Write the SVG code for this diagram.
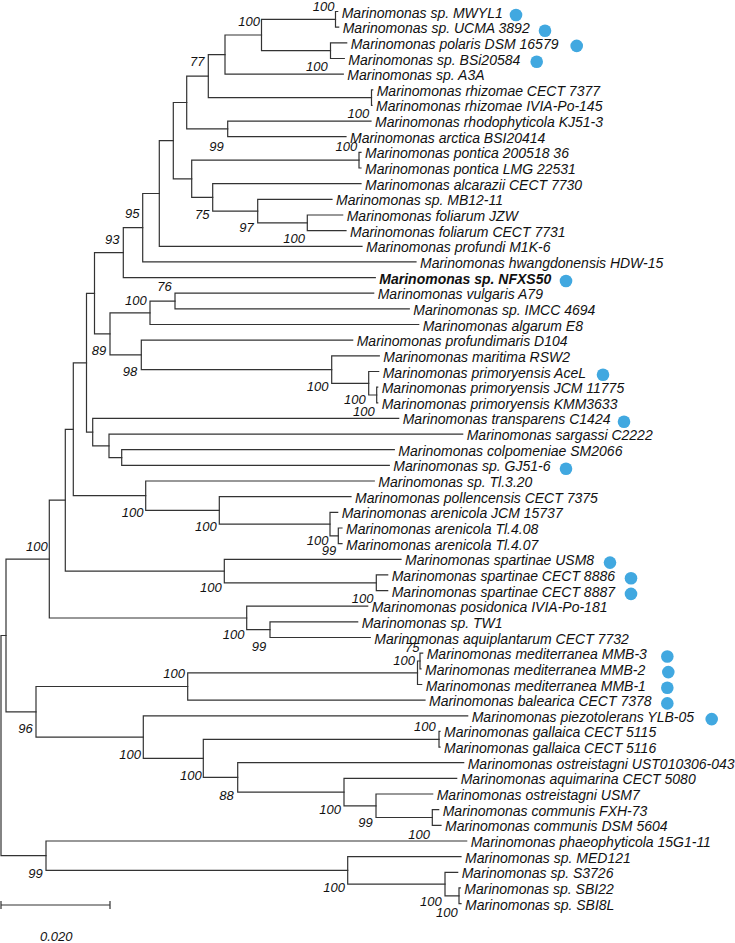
<svg xmlns="http://www.w3.org/2000/svg" width="735" height="943" viewBox="0 0 735 943">
<style>
.br{fill:none;stroke:#333;stroke-width:1.2;stroke-linecap:square}
.lf{font-family:"Liberation Sans",Arial,sans-serif;font-size:14px;font-style:italic;fill:#111}
.bd{font-weight:bold}
.bs{font-family:"Liberation Sans",Arial,sans-serif;font-size:13px;font-style:italic;fill:#111}
.dot{fill:#41A8E0}
</style>
<rect width="735" height="943" fill="#fff"/>
<g id="connectors" class="br">
<path d="M335.5 11.5V27.2M335.5 11.5H337.7M335.5 27.2H338.7"/>
<path d="M330.5 42.8V58.5M330.5 42.8H346.7M330.5 58.5H344.3"/>
<path d="M261.5 19.3V50.6M261.5 19.3H335.5M261.5 50.6H330.5"/>
<path d="M225 35V74.1M225 35H261.5M225 74.1H343.3"/>
<path d="M371.5 89.8V105.4M371.5 89.8H372.7M371.5 105.4H372"/>
<path d="M208.3 54.6V97.6M208.3 54.6H225M208.3 97.6H371.5"/>
<path d="M227.7 121.1V136.7M227.7 121.1H371M227.7 136.7H346"/>
<path d="M186.7 76.1V128.9M186.7 76.1H208.3M186.7 128.9H227.7"/>
<path d="M359 152.4V168M359 152.4H361M359 168H361"/>
<path d="M307.3 215V230.6M307.3 215H342.7M307.3 230.6H346"/>
<path d="M257.7 199.3V222.8M257.7 199.3H332M257.7 222.8H307.3"/>
<path d="M212.7 183.7V211.1M212.7 183.7H361M212.7 211.1H257.7"/>
<path d="M191.7 160.2V197.4M191.7 160.2H359M191.7 197.4H212.7"/>
<path d="M173.3 102.5V178.8M173.3 102.5H186.7M173.3 178.8H191.7"/>
<path d="M159.3 140.7V246.3M159.3 140.7H173.3M159.3 246.3H362"/>
<path d="M142.7 193.5V261.9M142.7 193.5H159.3M142.7 261.9H416"/>
<path d="M123.3 227.7V277.6M123.3 227.7H142.7M123.3 277.6H375.3"/>
<path d="M175 293.2V308.9M175 293.2H373.7M175 308.9H409.3"/>
<path d="M150 301.1V324.5M150 301.1H175M150 324.5H418.7"/>
<path d="M376.7 387.1V402.8M376.7 387.1H377.7M376.7 402.8H377.7"/>
<path d="M368.7 371.5V395M368.7 371.5H378.7M368.7 395H376.7"/>
<path d="M331.7 355.8V383.3M331.7 355.8H379.3M331.7 383.3H368.7"/>
<path d="M141.3 340.2V369.6M141.3 340.2H352.7M141.3 369.6H331.7"/>
<path d="M110 312.8V354.9M110 312.8H150M110 354.9H141.3"/>
<path d="M94.5 252.7V333.9M94.5 252.7H123.3M94.5 333.9H110"/>
<path d="M121.7 449.7V465.4M121.7 449.7H394.3M121.7 465.4H389.3"/>
<path d="M109 434.1V457.6M109 434.1H462.7M109 457.6H121.7"/>
<path d="M92.7 418.4V445.9M92.7 418.4H398.7M92.7 445.9H109"/>
<path d="M86.5 293.3V432.2M86.5 293.3H94.5M86.5 432.2H92.7"/>
<path d="M338.3 528V543.6M338.3 528H342M338.3 543.6H342"/>
<path d="M330 512.3V535.8M330 512.3H337.7M330 535.8H338.3"/>
<path d="M219.3 496.7V524.1M219.3 496.7H351M219.3 524.1H330"/>
<path d="M145.7 481V510.4M145.7 481H374.3M145.7 510.4H219.3"/>
<path d="M73.3 362.8V495.7M73.3 362.8H86.5M73.3 495.7H145.7"/>
<path d="M376.3 574.9V590.6M376.3 574.9H387.7M376.3 590.6H387.7"/>
<path d="M224.3 559.3V582.8M224.3 559.3H401M224.3 582.8H376.3"/>
<path d="M65.3 429.3V571.1M65.3 429.3H73.3M65.3 571.1H224.3"/>
<path d="M270 621.9V637.5M270 621.9H357.7M270 637.5H370.3"/>
<path d="M246.7 606.2V629.7M246.7 606.2H367.7M246.7 629.7H270"/>
<path d="M49.3 500.2V618M49.3 500.2H65.3M49.3 618H246.7"/>
<path d="M420 653.2V668.8M420 653.2H422.7M420 668.8H421"/>
<path d="M417.5 661V684.5M417.5 661H420M417.5 684.5H421.7"/>
<path d="M187.7 672.8V700.1M187.7 672.8H417.5M187.7 700.1H425"/>
<path d="M439 731.4V747.1M439 731.4H440M439 747.1H440"/>
<path d="M432.3 809.7V825.3M432.3 809.7H438.7M432.3 825.3H441"/>
<path d="M376 794V817.5M376 794H432.7M376 817.5H432.3"/>
<path d="M344 778.4V805.8M344 778.4H456.7M344 805.8H376"/>
<path d="M237.7 762.7V792.1M237.7 762.7H463.7M237.7 792.1H344"/>
<path d="M203.3 739.3V777.4M203.3 739.3H439M203.3 777.4H237.7"/>
<path d="M143.3 715.8V758.4M143.3 715.8H467.7M143.3 758.4H203.3"/>
<path d="M36 686.5V737.1M36 686.5H187.7M36 737.1H143.3"/>
<path d="M6 559.1V711.8M6 559.1H49.3M6 711.8H36"/>
<path d="M459 887.9V903.6M459 887.9H460.3M459 903.6H461"/>
<path d="M445 872.3V895.8M445 872.3H457.7M445 895.8H459"/>
<path d="M347.7 856.6V884.1M347.7 856.6H461M347.7 884.1H445"/>
<path d="M46 841V870.4M46 841H466.7M46 870.4H347.7"/>
<path d="M1 635.5V855.7M1 635.5H6M1 855.7H46"/>
</g>
<g id="leaves" class="lf">
<g id="n1"><text x="341.7" y="17.5">Marinomonas sp. MWYL1</text><circle class="dot" cx="516" cy="15" r="6.3"/></g>
<g id="n2"><text x="342.7" y="33.2">Marinomonas sp. UCMA 3892</text><circle class="dot" cx="545" cy="30.7" r="6.3"/></g>
<g id="n3"><text x="350.7" y="48.8">Marinomonas polaris DSM 16579</text><circle class="dot" cx="576.7" cy="45.9" r="6.3"/></g>
<g id="n4"><text x="348.3" y="64.5">Marinomonas sp. BSi20584</text><circle class="dot" cx="536.7" cy="61.8" r="6.3"/></g>
<g id="n5"><text x="347.3" y="80.1">Marinomonas sp. A3A</text></g>
<g id="n6"><text x="376.7" y="95.8">Marinomonas rhizomae CECT 7377</text></g>
<g id="n7"><text x="376" y="111.4">Marinomonas rhizomae IVIA-Po-145</text></g>
<g id="n8"><text x="375" y="127.1">Marinomonas rhodophyticola KJ51-3</text></g>
<g id="n9"><text x="350" y="142.7">Marinomonas arctica BSI20414</text></g>
<g id="n10"><text x="365" y="158.4">Marinomonas pontica 200518 36</text></g>
<g id="n11"><text x="365" y="174">Marinomonas pontica LMG 22531</text></g>
<g id="n12"><text x="365" y="189.7">Marinomonas alcarazii CECT 7730</text></g>
<g id="n13"><text x="336" y="205.3">Marinomonas sp. MB12-11</text></g>
<g id="n14"><text x="346.7" y="221">Marinomonas foliarum JZW</text></g>
<g id="n15"><text x="350" y="236.6">Marinomonas foliarum CECT 7731</text></g>
<g id="n16"><text x="366" y="252.3">Marinomonas profundi M1K-6</text></g>
<g id="n17"><text x="420" y="267.9">Marinomonas hwangdonensis HDW-15</text></g>
<g id="n18"><text class="bd" x="379.3" y="283.6">Marinomonas sp. NFXS50</text><circle class="dot" cx="566" cy="281" r="6.3"/></g>
<g id="n19"><text x="377.7" y="299.2">Marinomonas vulgaris A79</text></g>
<g id="n20"><text x="413.3" y="314.9">Marinomonas sp. IMCC 4694</text></g>
<g id="n21"><text x="422.7" y="330.5">Marinomonas algarum E8</text></g>
<g id="n22"><text x="356.7" y="346.2">Marinomonas profundimaris D104</text></g>
<g id="n23"><text x="383.3" y="361.8">Marinomonas maritima RSW2</text></g>
<g id="n24"><text x="382.7" y="377.5">Marinomonas primoryensis AceL</text><circle class="dot" cx="603" cy="374.8" r="6.3"/></g>
<g id="n25"><text x="381.7" y="393.1">Marinomonas primoryensis JCM 11775</text></g>
<g id="n26"><text x="381.7" y="408.8">Marinomonas primoryensis KMM3633</text></g>
<g id="n27"><text x="402.7" y="424.4">Marinomonas transparens C1424</text><circle class="dot" cx="624" cy="421.7" r="6.3"/></g>
<g id="n28"><text x="466.7" y="440.1">Marinomonas sargassi C2222</text></g>
<g id="n29"><text x="398.3" y="455.7">Marinomonas colpomeniae SM2066</text></g>
<g id="n30"><text x="393.3" y="471.4">Marinomonas sp. GJ51-6</text><circle class="dot" cx="566" cy="468.7" r="6.3"/></g>
<g id="n31"><text x="378.3" y="487">Marinomonas sp. Tl.3.20</text></g>
<g id="n32"><text x="355" y="502.7">Marinomonas pollencensis CECT 7375</text></g>
<g id="n33"><text x="341.7" y="518.3">Marinomonas arenicola JCM 15737</text></g>
<g id="n34"><text x="346" y="534">Marinomonas arenicola Tl.4.08</text></g>
<g id="n35"><text x="346" y="549.6">Marinomonas arenicola Tl.4.07</text></g>
<g id="n36"><text x="405" y="565.3">Marinomonas spartinae USM8</text><circle class="dot" cx="610" cy="562.6" r="6.3"/></g>
<g id="n37"><text x="391.7" y="580.9">Marinomonas spartinae CECT 8886</text><circle class="dot" cx="631" cy="578.2" r="6.3"/></g>
<g id="n38"><text x="391.7" y="596.6">Marinomonas spartinae CECT 8887</text><circle class="dot" cx="631" cy="593.9" r="6.3"/></g>
<g id="n39"><text x="371.7" y="612.2">Marinomonas posidonica IVIA-Po-181</text></g>
<g id="n40"><text x="361.7" y="627.9">Marinomonas sp. TW1</text></g>
<g id="n41"><text x="374.3" y="643.5">Marinomonas aquiplantarum CECT 7732</text></g>
<g id="n42"><text x="426.7" y="659.2">Marinomonas mediterranea MMB-3</text><circle class="dot" cx="667.3" cy="656.5" r="6.3"/></g>
<g id="n43"><text x="425" y="674.8">Marinomonas mediterranea MMB-2</text><circle class="dot" cx="668.3" cy="672.1" r="6.3"/></g>
<g id="n44"><text x="425.7" y="690.5">Marinomonas mediterranea MMB-1</text><circle class="dot" cx="667.3" cy="687.8" r="6.3"/></g>
<g id="n45"><text x="429" y="706.1">Marinomonas balearica CECT 7378</text><circle class="dot" cx="667.3" cy="703.4" r="6.3"/></g>
<g id="n46"><text x="471.7" y="721.8">Marinomonas piezotolerans YLB-05</text><circle class="dot" cx="711.7" cy="719.1" r="6.3"/></g>
<g id="n47"><text x="444" y="737.4">Marinomonas gallaica CECT 5115</text></g>
<g id="n48"><text x="444" y="753.1">Marinomonas gallaica CECT 5116</text></g>
<g id="n49"><text x="467.7" y="768.7">Marinomonas ostreistagni UST010306-043</text></g>
<g id="n50"><text x="460.7" y="784.4">Marinomonas aquimarina CECT 5080</text></g>
<g id="n51"><text x="436.7" y="800">Marinomonas ostreistagni USM7</text></g>
<g id="n52"><text x="442.7" y="815.7">Marinomonas communis FXH-73</text></g>
<g id="n53"><text x="445" y="831.3">Marinomonas communis DSM 5604</text></g>
<g id="n54"><text x="470.7" y="847">Marinomonas phaeophyticola 15G1-11</text></g>
<g id="n55"><text x="465" y="862.6">Marinomonas sp. MED121</text></g>
<g id="n56"><text x="461.7" y="878.3">Marinomonas sp. S3726</text></g>
<g id="n57"><text x="464.3" y="893.9">Marinomonas sp. SBI22</text></g>
<g id="n58"><text x="465" y="909.6">Marinomonas sp. SBI8L</text></g>
</g>
<g id="bootstrap" class="bs">
<text x="312.7" y="10.5">100</text>
<text x="238.3" y="26.4">100</text>
<text x="190" y="66.4">77</text>
<text x="306" y="71.4">100</text>
<text x="347.5" y="118.4">100</text>
<text x="209.3" y="150.7">99</text>
<text x="335.5" y="151">100</text>
<text x="195" y="218.7">75</text>
<text x="239.3" y="232">97</text>
<text x="283.3" y="243">100</text>
<text x="125" y="218">95</text>
<text x="105" y="244">93</text>
<text x="157.3" y="291.4">76</text>
<text x="125" y="305.4">100</text>
<text x="91.7" y="354.7">89</text>
<text x="122.7" y="375.7">98</text>
<text x="306.7" y="391.4">100</text>
<text x="344" y="403.7">100</text>
<text x="353" y="416.4">100</text>
<text x="121.7" y="517.4">100</text>
<text x="195" y="531.4">100</text>
<text x="306.7" y="544.7">100</text>
<text x="321.7" y="555.4">99</text>
<text x="26" y="550.7">100</text>
<text x="200" y="592">100</text>
<text x="351.7" y="603">100</text>
<text x="222.7" y="638.7">100</text>
<text x="251.7" y="651.4">99</text>
<text x="405" y="652">75</text>
<text x="393.3" y="664.7">100</text>
<text x="163.3" y="678">100</text>
<text x="18.3" y="733">96</text>
<text x="119.3" y="758.7">100</text>
<text x="414" y="731.4">100</text>
<text x="180" y="779.7">100</text>
<text x="219.3" y="799.7">88</text>
<text x="319.3" y="814">100</text>
<text x="358.3" y="827.4">99</text>
<text x="408.3" y="838.7">100</text>
<text x="28.3" y="878">99</text>
<text x="323.3" y="892">100</text>
<text x="420" y="906.4">100</text>
<text x="436" y="917.4">100</text>
</g>
<g id="scalebar">
<path class="br" d="M1 905H110M1 901.5V908.5M110 901.5V908.5"/>
<text class="bs" x="40" y="940.5">0.020</text>
</g>
</svg>
